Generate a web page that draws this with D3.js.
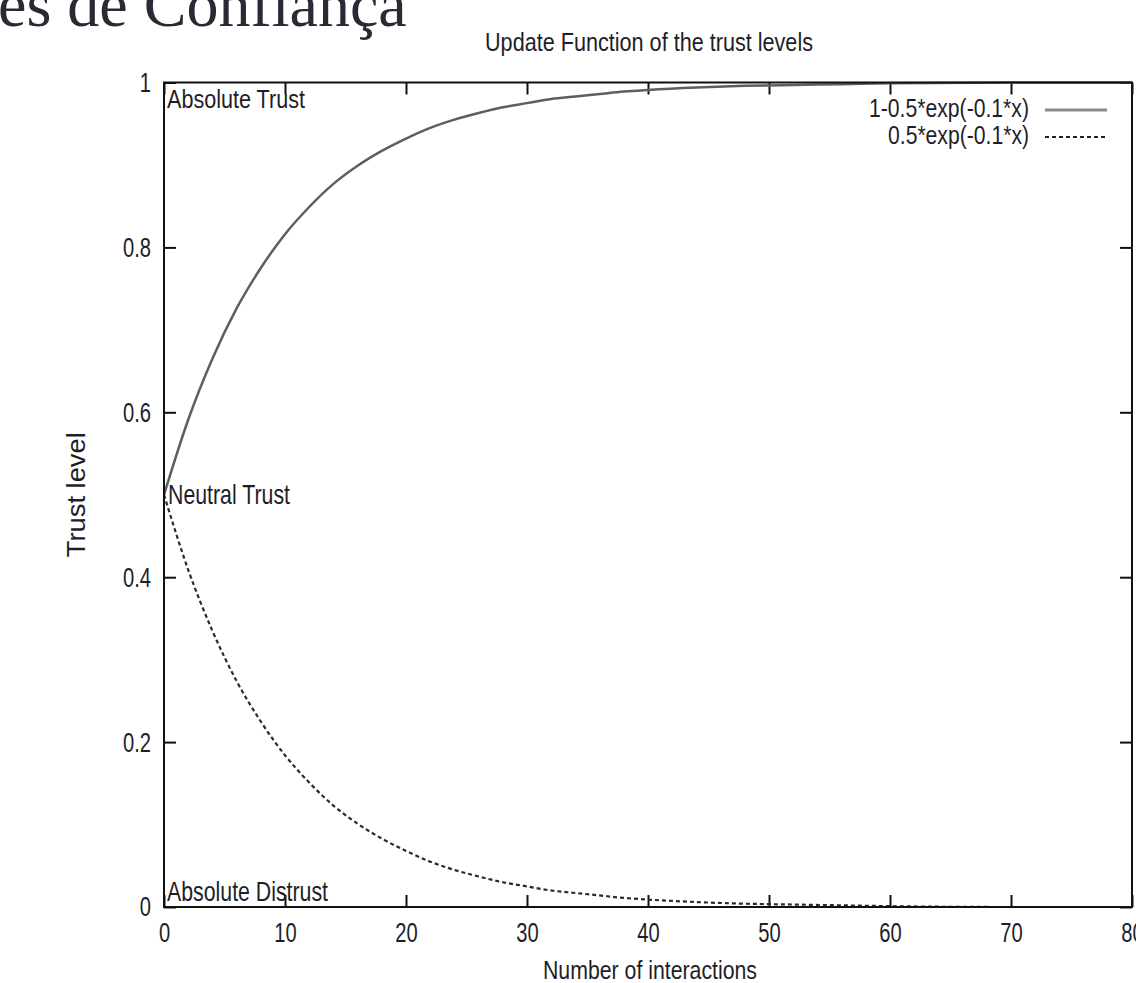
<!DOCTYPE html>
<html>
<head>
<meta charset="utf-8">
<script src="https://cdn.jsdelivr.net/npm/d3@7"></script>
<style>
  body { margin: 0; background: #fff; }
  text { font-family: "Liberation Sans", Arial, sans-serif; fill: #1e1e28; }
</style>
</head>
<body>
<div id="chart"></div>
<script>
// interactions sampled along the x axis
const interactions = [0, 2, 4, 6, 8, 10, 12, 14, 16, 18, 20, 22, 24, 26, 28, 30, 32, 34, 36, 38, 40, 44, 48, 52, 56, 60, 70, 80];
// 1-0.5*exp(-0.1*x)
const trustUp = [0.500, 0.591, 0.665, 0.726, 0.775, 0.816, 0.849, 0.877, 0.899, 0.917, 0.932, 0.945, 0.955, 0.963, 0.970, 0.975, 0.980, 0.983, 0.986, 0.989, 0.991, 0.994, 0.996, 0.997, 0.998, 0.999, 1.000, 1.000];
// 0.5*exp(-0.1*x)
const trustDown = [0.500, 0.409, 0.335, 0.274, 0.225, 0.184, 0.151, 0.123, 0.101, 0.083, 0.068, 0.055, 0.045, 0.037, 0.030, 0.025, 0.020, 0.017, 0.014, 0.011, 0.009, 0.006, 0.004, 0.003, 0.002, 0.001, 0.000, 0.000];
const seriesNames = ["1-0.5*exp(-0.1*x)", "0.5*exp(-0.1*x)"];
const xTicks = [0, 10, 20, 30, 40, 50, 60, 70, 80];
const yTicks = [0, 0.2, 0.4, 0.6, 0.8, 1];

const width = 1136, height = 983;
const margin = { top: 82.5, right: 4, bottom: 76, left: 164 };
const squeeze = 0.72; // the plot font is a condensed sans

const svg = d3.select("#chart").append("svg")
  .attr("width", width)
  .attr("height", height);

const x = d3.scaleLinear().domain([0, 80]).range([margin.left, width - margin.right]);
const y = d3.scaleLinear().domain([0, 1]).range([height - margin.bottom, margin.top]);

// condensed text, stretched to the width measured on the reference
function label(str, px, py, size, len, anchor = "start") {
  return svg.append("text")
    .attr("x", px).attr("y", py)
    .attr("text-anchor", anchor)
    .attr("textLength", len)
    .attr("lengthAdjust", "spacingAndGlyphs")
    .style("font-size", size + "px")
    .text(str);
}

// slide heading cut at the top
svg.append("text")
  .attr("x", -2).attr("y", 26)
  .style("font-family", "'Liberation Serif', 'Times New Roman', serif")
  .style("font-size", "64px")
  .style("fill", "#2a2a35")
  .text("es de Confiança");

label("Update Function of the trust levels", 485, 51, 25, 328);

// axes, ticks pointing inward
function styleAxis(g) {
  g.select(".domain").remove();
  g.selectAll(".tick line").attr("stroke", "#111").attr("stroke-width", 2);
  g.selectAll(".tick text").style("font-size", "28px")
    .style("font-family", "'Liberation Sans', Arial, sans-serif")
    .style("fill", "#1e1e28")
    .attr("transform", `scale(${squeeze},1)`);
}

svg.append("g")
  .attr("transform", `translate(0,${y(0)})`)
  .call(d3.axisBottom(x).tickValues(xTicks).tickSize(-12).tickPadding(15))
  .call(styleAxis);

svg.append("g")
  .attr("transform", `translate(0,${y(1)})`)
  .call(d3.axisTop(x).tickValues(xTicks).tickSize(-12).tickFormat(""))
  .call(styleAxis);

svg.append("g")
  .attr("transform", `translate(${x(0)},0)`)
  .call(d3.axisLeft(y).tickValues(yTicks).tickSize(-12).tickPadding(13 / squeeze).tickFormat(d3.format("~g")))
  .call(styleAxis);

svg.append("g")
  .attr("transform", `translate(${x(80)},0)`)
  .call(d3.axisRight(y).tickValues(yTicks).tickSize(-12).tickFormat(""))
  .call(styleAxis);

// curves
const line = d3.line()
  .x((d, i) => x(interactions[i]))
  .y(d => y(d))
  .curve(d3.curveMonotoneX);

svg.append("path")
  .attr("d", line(trustUp))
  .attr("fill", "none")
  .attr("stroke", "#5e5e5e")
  .attr("stroke-width", 2.5);

svg.append("path")
  .attr("d", line(trustDown))
  .attr("fill", "none")
  .attr("stroke", "#2a2a2a")
  .attr("stroke-width", 2.2)
  .attr("stroke-dasharray", "4,3");

// frame
svg.append("rect")
  .attr("x", x(0)).attr("y", y(1))
  .attr("width", x(80) - x(0)).attr("height", y(0) - y(1))
  .attr("fill", "none")
  .attr("stroke", "#111")
  .attr("stroke-width", 2);

// labels inside the plot
label("Absolute Trust", x(0) + 3, 108, 26, 138);
label("Neutral Trust", x(0) + 4, 504, 28, 122);
label("Absolute Distrust", x(0) + 3, 901, 28, 161);

// axis titles
label("Number of interactions", 543, 979, 26, 214);

svg.append("text")
  .attr("transform", `translate(85,${(y(0) + y(1)) / 2}) rotate(-90)`)
  .attr("text-anchor", "middle")
  .attr("textLength", 125)
  .attr("lengthAdjust", "spacingAndGlyphs")
  .style("font-size", "25px")
  .text("Trust level");

// legend
const legendRows = [
  { name: seriesNames[0], len: 160, stroke: "#8a8a8a", width: 3, dash: null },
  { name: seriesNames[1], len: 141, stroke: "#222", width: 2, dash: "4,3" }
];
legendRows.forEach((r, i) => {
  const ly = 110 + i * 27;
  label(r.name, 1029, ly + 7, 26, r.len, "end");
  svg.append("line")
    .attr("x1", 1045).attr("x2", 1107)
    .attr("y1", ly).attr("y2", ly)
    .attr("stroke", r.stroke)
    .attr("stroke-width", r.width)
    .attr("stroke-dasharray", r.dash);
});
</script>
</body>
</html>
